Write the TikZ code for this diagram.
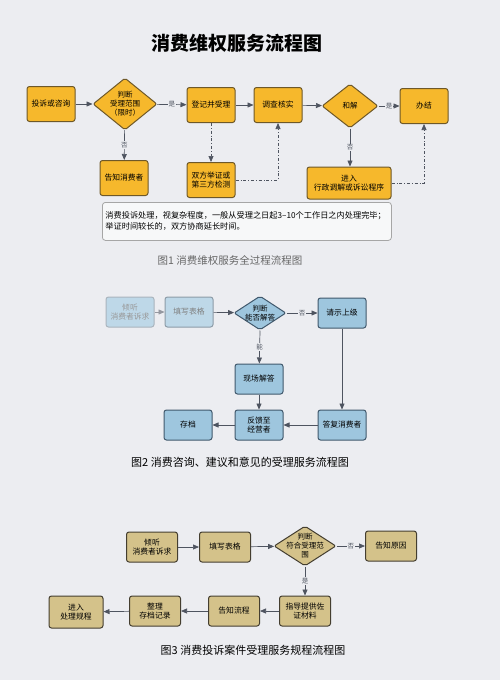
\documentclass[tikz,border=0pt]{standalone}
\usepackage{fontspec}
\setmainfont{Noto Sans CJK SC}
\usetikzlibrary{positioning, calc, arrows.meta, shapes.geometric}
\definecolor{paper}{RGB}{236,237,241}
\definecolor{amber}{RGB}{246,184,44}
\definecolor{amberline}{RGB}{110,88,40}
\definecolor{skyfill}{RGB}{158,198,222}
\definecolor{skyline}{RGB}{64,88,108}
\definecolor{skyfade}{RGB}{190,216,232}
\definecolor{khaki}{RGB}{212,194,138}
\definecolor{khakiline}{RGB}{68,62,48}
\definecolor{linkgray}{RGB}{78,84,96}
\tikzset{box/.style={draw, rounded corners=2.5pt, line width=1pt, align=center, inner sep=1pt, font=\fontsize{7.8}{9.5}\selectfont}}
\tikzset{orangebox/.style={box, fill=amber, draw=amberline, minimum width=48pt, minimum height=35pt}}
\tikzset{bluebox/.style={box, fill=skyfill, draw=skyline, minimum width=48pt, minimum height=30pt}}
\tikzset{khakibox/.style={box, fill=khaki, draw=khakiline, minimum width=51pt, minimum height=30pt}}
\tikzset{decide/.style={diamond, draw, rounded corners=2pt, line width=1pt, align=center, inner sep=-6pt, font=\fontsize{7.5}{9}\selectfont}}
\tikzset{arr/.style={draw=linkgray, line width=0.7pt, -{Triangle[length=6pt,width=5pt]}}}
\tikzset{dotarr/.style={arr, dash dot}}
\tikzset{lbl/.style={fill=paper, inner sep=1pt, font=\fontsize{6.5}{7}\selectfont, text=linkgray}}
\begin{document}
\begin{tikzpicture}[x=1pt, y=-1pt]
  \fill[paper] (0,0) rectangle (500,680);
  \useasboundingbox (0,0) rectangle (500,680);

  \node[font=\bfseries\fontsize{19}{22}\selectfont] (title) at (237,43) {消费维权服务流程图};

  % Figure 1
  \node[orangebox] (ask1) at (51,104) {投诉或咨询};
  \node[decide, fill=amber, draw=amberline, minimum width=64pt, minimum height=52pt] (scope) at (125,104) {判断\\受理范围\\（限时）};
  \node[orangebox] (register) at (211,105) {登记并受理};
  \node[orangebox] (check) at (278,105) {调查核实};
  \node[decide, fill=amber, draw=amberline, minimum width=56pt, minimum height=44pt] (settle) at (350,106) {和解};
  \node[orangebox] (close) at (424,106) {办结};
  \node[orangebox] (inform) at (124,178) {告知消费者};
  \node[orangebox] (proof) at (211,180) {双方举证或\\第三方检测};
  \node[orangebox, minimum width=84pt, minimum height=32pt] (court) at (349,183) {进入\\行政调解或诉讼程序};
  \node[draw=gray!70, fill=white!60!paper, rounded corners=3pt, line width=0.8pt, text width=283pt, minimum height=38pt, align=left, inner sep=3pt, font=\fontsize{8.2}{11}\selectfont, anchor=north west] (note) at (102,202) {消费投诉处理，视复杂程度，一般从受理之日起3–10个工作日之内处理完毕；\\举证时间较长的，双方协商延长时间。};
  \node[text=black!60, font=\fontsize{10.5}{12}\selectfont] (cap1) at (230,260) {图1 消费维权服务全过程流程图};

  \draw[arr] (ask1) -- (scope);
  \draw[arr] (scope) -- node[lbl] {是} (register);
  \draw[arr] (register) -- (check);
  \draw[arr] (check) -- (settle);
  \draw[arr] (settle) -- node[lbl] {是} (close);
  \draw[arr] (scope) -- node[lbl] {否} (inform);
  \draw[arr] (settle) -- node[lbl] {否} (settle |- court.north);
  \draw[dotarr] (register) -- (proof);
  \draw[dotarr] (proof.east) -| (check.south);
  \draw[dotarr] (court.east) -| (close.south);

  % Figure 2
  \node[bluebox, fill=skyfade, draw=skyline!45, text=black!40] (listen2) at (130,312) {倾听\\消费者诉求};
  \node[bluebox, fill=skyfade, draw=skyline!60, text=black!50] (form2) at (189,312) {填写表格};
  \node[decide, fill=skyfill, draw=skyline, minimum width=52pt, minimum height=34pt] (answer) at (260,313) {判断\\能否解答};
  \node[bluebox] (report) at (342,313) {请示上级};
  \node[bluebox] (onsite) at (259,379) {现场解答};
  \node[bluebox] (feedback) at (259,425) {反馈至\\经营者};
  \node[bluebox] (reply) at (342,425) {答复消费者};
  \node[bluebox] (archive) at (188,425) {存档};
  \node[font=\fontsize{11}{13}\selectfont] (cap2) at (240,462) {图2 消费咨询、建议和意见的受理服务流程图};

  \draw[arr, draw=linkgray!60] (listen2) -- (form2);
  \draw[arr] (form2) -- (answer);
  \draw[arr] (answer) -- node[lbl] {否} (report);
  \draw[arr] (answer.south) -- node[lbl] {能} (onsite);
  \draw[arr] (onsite) -- (feedback);
  \draw[arr] (report) -- (reply);
  \draw[arr] (reply) -- (feedback);
  \draw[arr] (feedback) -- (archive);

  % Figure 3
  \node[khakibox] (listen3) at (152,547) {倾听\\消费者诉求};
  \node[khakibox] (form3) at (225,547) {填写表格};
  \node[decide, fill=khaki, draw=khakiline, minimum width=62pt, minimum height=40pt] (fit) at (305,546) {判断\\符合受理范\\围};
  \node[khakibox] (reason) at (391,546) {告知原因};
  \node[khakibox] (guide) at (305,611) {指导提供佐\\证材料};
  \node[khakibox] (process) at (234,611) {告知流程};
  \node[khakibox] (record) at (155,611) {整理\\存档记录};
  \node[khakibox, minimum width=54pt, minimum height=32pt] (handle) at (76,612) {进入\\处理规程};
  \node[font=\fontsize{11}{13}\selectfont] (cap3) at (253,650) {图3 消费投诉案件受理服务规程流程图};

  \draw[arr] (listen3) -- (form3);
  \draw[arr] (form3) -- (fit);
  \draw[arr] (fit) -- node[lbl] {否} (reason);
  \draw[arr] (fit) -- node[lbl] {是} (guide);
  \draw[arr] (guide) -- (process);
  \draw[arr] (process) -- (record);
  \draw[arr] (record) -- (handle);
\end{tikzpicture}
\end{document}
